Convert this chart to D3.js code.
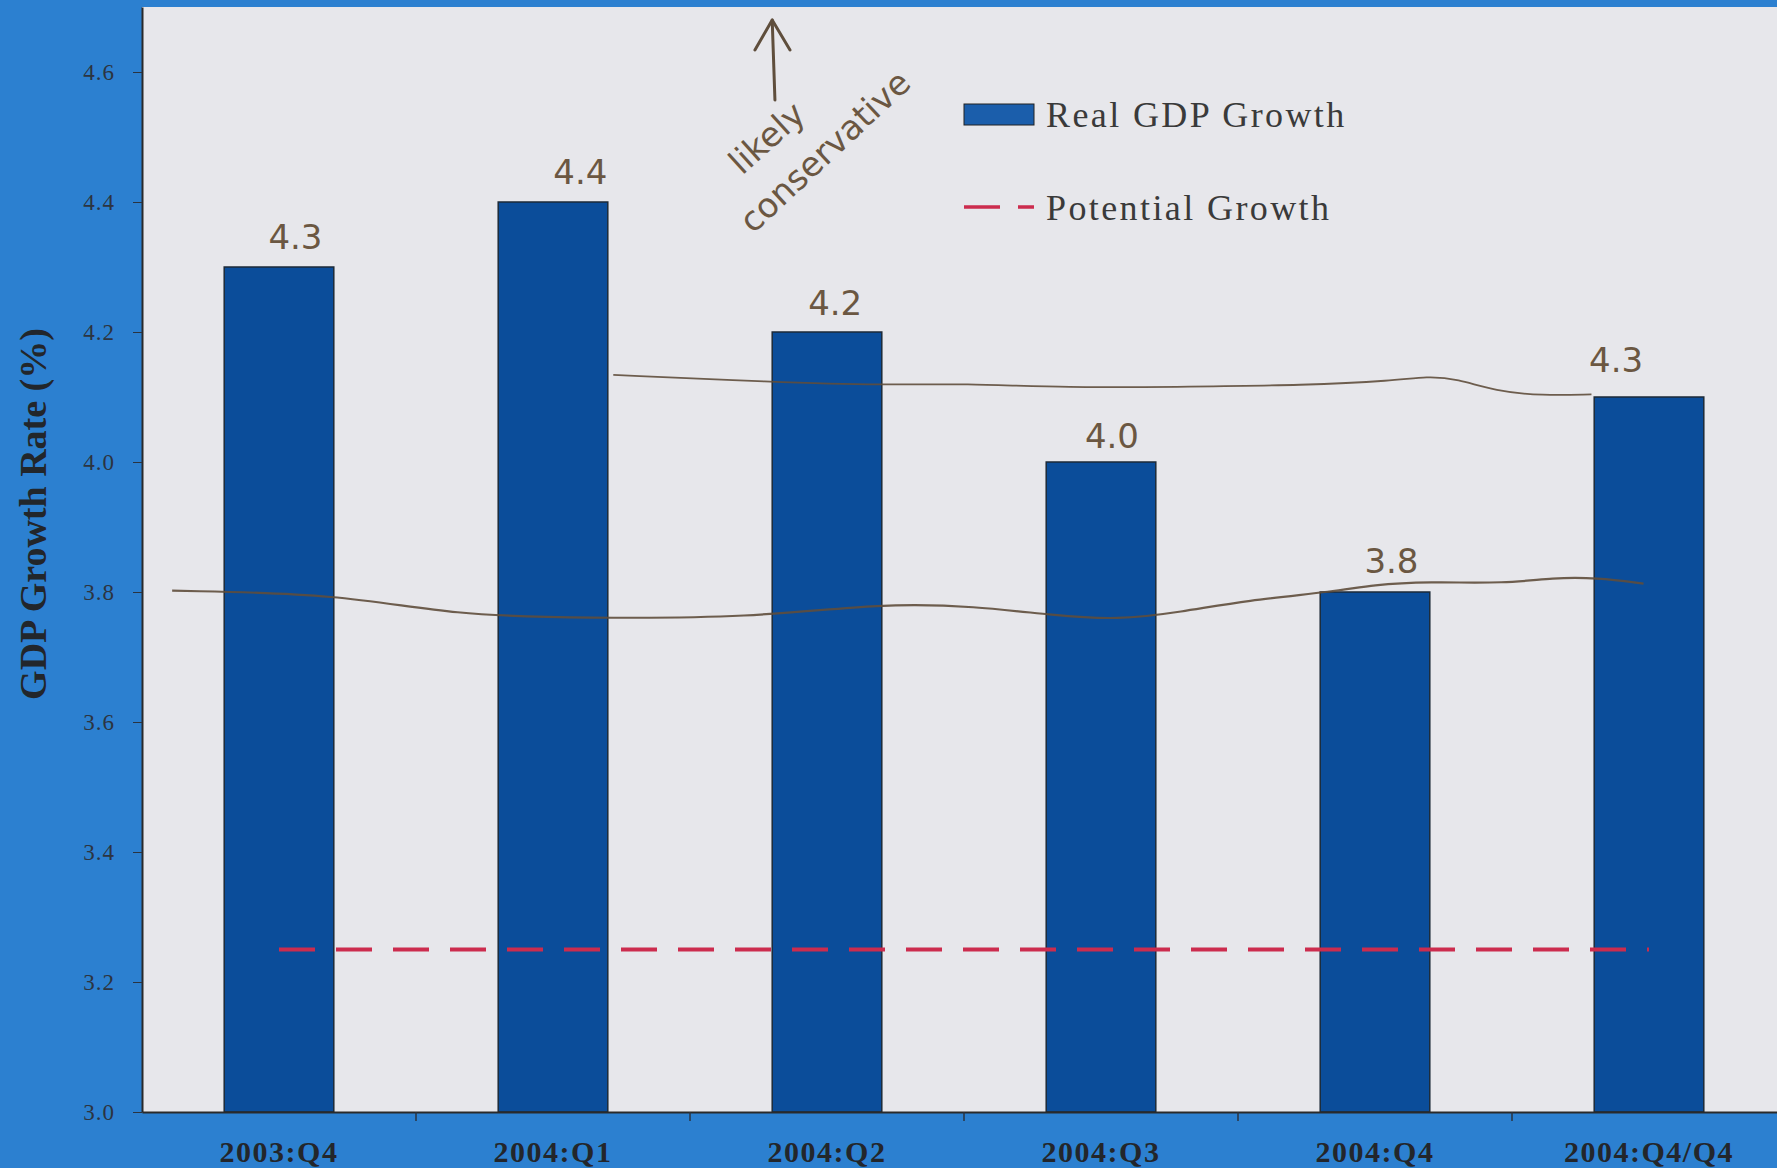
<!DOCTYPE html>
<meta charset="utf-8">
<head>
<style>
  body { margin: 0; background: #2c80d0; }
  svg { display: block; }
  .tick-y text { font-family: "Liberation Serif", serif; font-size: 23px; letter-spacing: 1px; fill: #2c3440; }
  .tick-x text { font-family: "Liberation Serif", serif; font-size: 30px; letter-spacing: 1.5px; font-weight: bold; fill: #23262b; }
  .legend text { font-family: "Liberation Serif", serif; font-size: 36px; letter-spacing: 2.4px; fill: #3a3a3a; }
  .ytitle { font-family: "Liberation Serif", serif; font-size: 38px; font-weight: bold; fill: #22262b; }
  .hand { font-family: "DejaVu Sans", sans-serif; font-size: 34px; fill: #6b5742; }
</style>
<script src="https://d3js.org/d3.v7.min.js"></script>
</head>
<body>
<svg width="1777" height="1168"></svg>
<script>
// data
var categories = ["2003:Q4", "2004:Q1", "2004:Q2", "2004:Q3", "2004:Q4", "2004:Q4/Q4"];
var realGdp = [4.3, 4.4, 4.2, 4.0, 3.8, 4.1];
var potential = [3.25, 3.25, 3.25, 3.25, 3.25, 3.25];
var yTicks = [3.0, 3.2, 3.4, 3.6, 3.8, 4.0, 4.2, 4.4, 4.6];

// handwritten notes on the printout, in (category index, value) units
var handLabels = ["4.3", "4.4", "4.2", "4.0", "3.8", "4.3"];
var handLabelPos = [[0.06, 4.328], [1.1, 4.428], [2.03, 4.226], [3.04, 4.022], [4.06, 3.83], [4.88, 4.139]];
var handLineLow = [[-0.39, 3.802], [0.22, 3.797], [0.64, 3.764], [1.13, 3.76], [1.71, 3.76], [2.21, 3.783],
  [2.54, 3.778], [2.83, 3.764], [3.06, 3.757], [3.29, 3.769], [3.53, 3.787], [3.86, 3.801],
  [3.99, 3.811], [4.19, 3.816], [4.48, 3.813], [4.65, 3.822], [4.81, 3.822], [4.98, 3.813]];
var handLineHigh = [[1.22, 4.134], [1.8, 4.123], [2.21, 4.118], [2.5, 4.121], [2.87, 4.114], [3.33, 4.116],
  [3.74, 4.118], [4.07, 4.125], [4.19, 4.132], [4.3, 4.128], [4.44, 4.109], [4.61, 4.102], [4.79, 4.104]];
var arrowShaft = [[1.81, 4.557], [1.80, 4.68]];
var arrowHead = [[1.737, 4.634], [1.80, 4.68], [1.865, 4.634]];
var noteWords = ["likely", "conservative"];
var notePos = [[1.69, 4.44, -42], [1.73, 4.35, -43]];

var svg = d3.select("svg"),
    width = +svg.attr("width"),
    height = +svg.attr("height");

var plotLeft = 142, plotRight = 1786, plotBottom = 1112;

var x = d3.scaleBand()
    .domain(categories)
    .range([plotLeft, plotRight])
    .paddingInner(0.6)
    .paddingOuter(0.3);

var y = d3.scaleLinear()
    .domain([3.0, 4.7])
    .range([plotBottom, plotBottom - 1.7 * 650]);

// fractional category index -> pixel (band centres)
var xi = d3.scaleLinear()
    .domain([0, categories.length - 1])
    .range([x(categories[0]) + x.bandwidth() / 2, x(categories[categories.length - 1]) + x.bandwidth() / 2]);

// background
svg.append("rect").attr("width", width).attr("height", height).attr("fill", "#2c80d0");
svg.append("rect")
    .attr("x", plotLeft).attr("y", y(4.7))
    .attr("width", plotRight - plotLeft).attr("height", plotBottom - y(4.7))
    .attr("fill", "#e7e7eb");

// bars
svg.append("g").selectAll("rect")
    .data(realGdp)
    .enter().append("rect")
    .attr("x", function(d, i) { return x(categories[i]); })
    .attr("y", function(d) { return y(d); })
    .attr("width", x.bandwidth())
    .attr("height", function(d) { return plotBottom - y(d); })
    .attr("fill", "#0b4d9a")
    .attr("stroke", "#1d2a38")
    .attr("stroke-width", 1.5);

// potential growth
var potLine = d3.line()
    .x(function(d, i) { return x(categories[i]) + x.bandwidth() / 2; })
    .y(function(d) { return y(d); });
svg.append("path")
    .datum(potential)
    .attr("d", potLine)
    .attr("fill", "none")
    .attr("stroke", "#cc2c4e")
    .attr("stroke-width", 4)
    .attr("stroke-dasharray", "36,21");

// axes
var yAxis = svg.append("g")
    .attr("class", "tick-y")
    .attr("transform", "translate(" + plotLeft + ",0)")
    .call(d3.axisLeft(y).tickValues(yTicks).tickFormat(d3.format(".1f")).tickSize(9).tickPadding(18).tickSizeOuter(0));
yAxis.select(".domain").attr("stroke", "#2a2a2a").attr("stroke-width", 2);
yAxis.selectAll(".tick line").attr("stroke", "#2a3340");

var xAxis = svg.append("g")
    .attr("class", "tick-x")
    .attr("transform", "translate(0," + plotBottom + ")")
    .call(d3.axisBottom(x).tickSize(0).tickPadding(41));
xAxis.select(".domain").attr("stroke", "#2a2a2a").attr("stroke-width", 2);
xAxis.selectAll("text").attr("dy", "0.3em");

// boundary ticks between categories
svg.append("g").selectAll("line")
    .data(categories.slice(1))
    .enter().append("line")
    .attr("x1", function(d) { return x(d) - (x.step() - x.bandwidth()) / 2; })
    .attr("x2", function(d) { return x(d) - (x.step() - x.bandwidth()) / 2; })
    .attr("y1", plotBottom).attr("y2", plotBottom + 9)
    .attr("stroke", "#2a3340").attr("stroke-width", 1.5);

svg.append("text")
    .attr("class", "ytitle")
    .attr("transform", "translate(46," + y(3.92) + ") rotate(-90)")
    .attr("text-anchor", "middle")
    .text("GDP Growth Rate (%)");

// legend
var legend = svg.append("g").attr("class", "legend").attr("transform", "translate(964,0)");
legend.append("rect").attr("x", 0).attr("y", 104).attr("width", 70).attr("height", 21)
    .attr("fill", "#1b5eab").attr("stroke", "#222").attr("stroke-width", 1);
legend.append("text").attr("x", 82).attr("y", 127).text("Real GDP Growth");
legend.append("line").attr("x1", 0).attr("x2", 70).attr("y1", 207).attr("y2", 207)
    .attr("stroke", "#cc2c4e").attr("stroke-width", 3.5).attr("stroke-dasharray", "36,18");
legend.append("text").attr("x", 82).attr("y", 220).text("Potential Growth");

// handwritten notes
var hand = svg.append("g");
hand.selectAll("text.lbl")
    .data(handLabels)
    .enter().append("text")
    .attr("class", "hand lbl")
    .attr("text-anchor", "middle")
    .attr("x", function(d, i) { return xi(handLabelPos[i][0]); })
    .attr("y", function(d, i) { return y(handLabelPos[i][1]); })
    .text(function(d) { return d; });

var handLine = d3.line()
    .x(function(d) { return xi(d[0]); })
    .y(function(d) { return y(d[1]); })
    .curve(d3.curveBasis);
[handLineLow, handLineHigh].forEach(function(pts, k) {
    hand.append("path")
        .attr("d", handLine(pts))
        .attr("fill", "none")
        .attr("stroke", "#5f4e3c")
        .attr("stroke-width", k ? 1.8 : 2.2)
        .attr("opacity", 0.9);
});

var straight = d3.line().x(function(d) { return xi(d[0]); }).y(function(d) { return y(d[1]); });
[arrowShaft, arrowHead].forEach(function(pts) {
    hand.append("path")
        .attr("d", straight(pts))
        .attr("fill", "none").attr("stroke", "#5f4e3c").attr("stroke-width", 3)
        .attr("stroke-linecap", "round").attr("stroke-linejoin", "round");
});
hand.selectAll("text.note")
    .data(noteWords)
    .enter().append("text")
    .attr("class", "hand note")
    .attr("transform", function(d, i) {
        return "translate(" + xi(notePos[i][0]) + "," + y(notePos[i][1]) + ") rotate(" + notePos[i][2] + ")";
    })
    .text(function(d) { return d; });
</script>
</body>
